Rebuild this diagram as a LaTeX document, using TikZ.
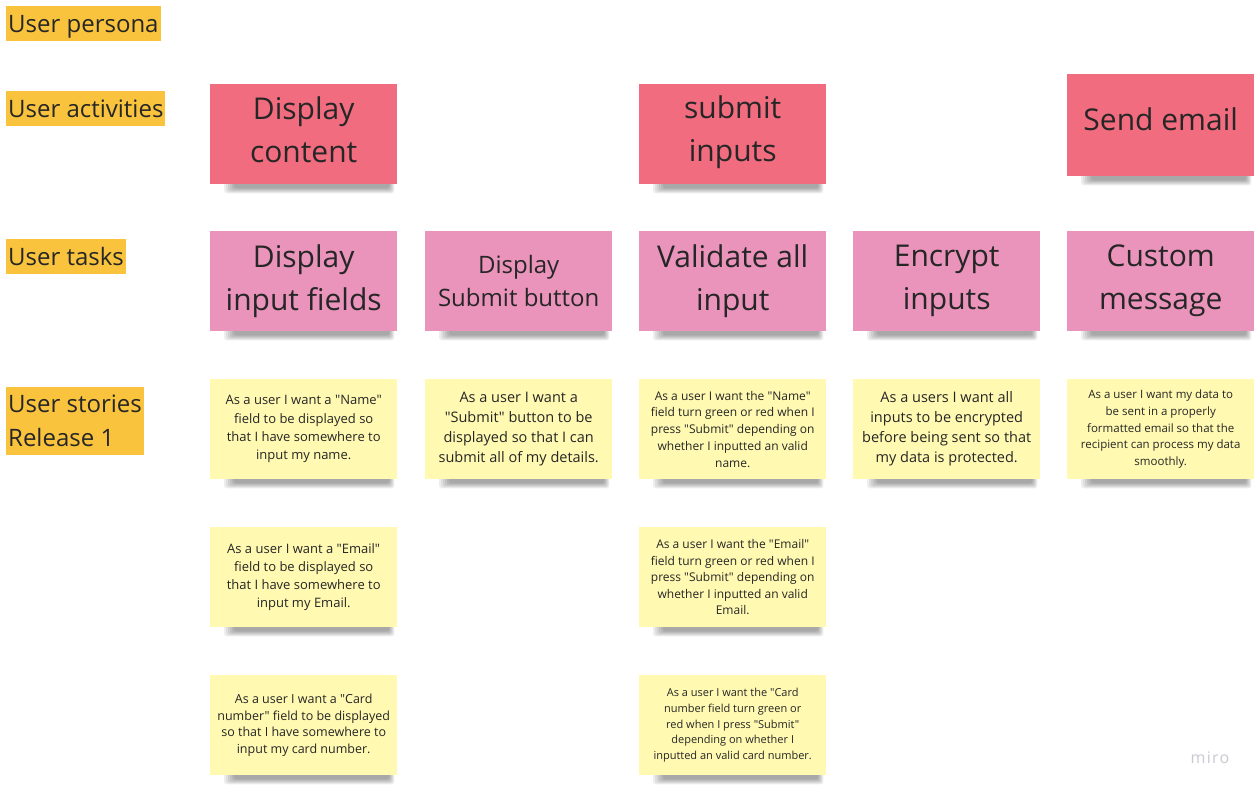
\documentclass[tikz,border=0pt]{standalone}
\usepackage{fontspec}
\setmainfont{Open Sans}[Ligatures=TeXOff]
\usetikzlibrary{backgrounds}
\definecolor{actred}{HTML}{F16C7F}
\definecolor{taskpink}{HTML}{EA94BB}
\definecolor{storyyellow}{HTML}{FFF9B1}
\definecolor{lblorange}{HTML}{F9C33D}
\definecolor{notetext}{HTML}{262626}
\definecolor{mirogray}{HTML}{C9C9D2}
\begin{document}
\begin{tikzpicture}[x=1pt,y=-1pt,
		note/.style={anchor=north west,minimum width=187pt,minimum height=100pt,inner sep=0pt,align=center,text=notetext},
		act/.style={note,fill=actred,font=\fontsize{30}{43}\selectfont},
		task/.style={note,fill=taskpink,font=\fontsize{30}{43}\selectfont},
		story/.style={note,fill=storyyellow},
		lbl/.style={anchor=north west,fill=lblorange,inner xsep=2pt,inner ysep=0pt,minimum height=35pt,align=left,text=notetext,font=\fontsize{24}{34}\selectfont}]
	\useasboundingbox (0,0) rectangle (1260,793);
	% row labels
	\node[lbl,text height=24pt] (persona) at (6,6) {User persona};
	\node[lbl] (activities) at (6,91) {User activities};
	\node[lbl] (tasks) at (6,239) {User tasks};
	\node[lbl,minimum height=68pt] (stories) at (6,387) {User stories\\Release 1};
	% activities
	\node[act,text depth=10pt] (dcontent) at (210,84) {Display\\content};
	\node[act,text depth=11pt] (subinputs) at (639,84) {submit\\inputs};
	\node[act,minimum height=102pt,text depth=12pt] (sendemail) at (1067,74) {Send email};
	% tasks
	\node[task] (dfields) at (210,231) {Display\\input fields};
	\node[task,font=\fontsize{24}{33}\selectfont] (dbutton) at (425,231) {Display\\Submit button};
	\node[task] (validate) at (639,231) {Validate all\\input};
	\node[task] (encrypt) at (853,231) {Encrypt\\inputs};
	\node[task] (custmsg) at (1067,231) {Custom\\message};
	% stories
	\node[story,font=\fontsize{13}{18.3}\selectfont] (sname) at (210,379) {As a user I want a "Name"\\field to be displayed so\\that I have somewhere to\\input my name.};
	\node[story,font=\fontsize{13}{18}\selectfont] (semail) at (210,527) {As a user I want a "Email"\\field to be displayed so\\that I have somewhere to\\input my Email.};
	\node[story,font=\fontsize{12.5}{16.5}\selectfont] (scard) at (210,675) {As a user I want a "Card\\number" field to be displayed\\so that I have somewhere to\\input my card number.};
	\node[story,font=\fontsize{14.5}{20}\selectfont] (sbutton) at (425,379) {As a user I want a\\"Submit" button to be\\displayed so that I can\\submit all of my details.};
	\node[story,font=\fontsize{12}{16.7}\selectfont] (vname) at (639,379) {As a user I want the "Name"\\field turn green or red when I\\press "Submit" depending on\\whether I inputted an valid\\name.};
	\node[story,font=\fontsize{12}{16.5}\selectfont] (vemail) at (639,527) {As a user I want the "Email"\\field turn green or red when I\\press "Submit" depending on\\whether I inputted an valid\\Email.};
	\node[story,font=\fontsize{11}{15.75}\selectfont] (vcard) at (639,675) {As a user I want the "Card\\number field turn green or\\red when I press "Submit"\\depending on whether I\\inputted an valid card number.};
	\node[story,font=\fontsize{14.5}{20}\selectfont] (sencrypt) at (853,379) {As a users I want all\\inputs to be encrypted\\before being sent so that\\my data is protected.};
	\node[story,font=\fontsize{11.5}{16.7}\selectfont] (sformat) at (1067,379) {As a user I want my data to\\be sent in a properly\\formatted email so that the\\recipient can process my data\\smoothly.};
	\node[text=mirogray,font=\fontsize{16}{16}\selectfont\addfontfeature{LetterSpace=8}] (miro) at (1210,758) {miro};
	% paper and shadows
	\begin{scope}[on background layer]
		\fill[white] (0,0) rectangle (1260,793);
		\foreach \n in {dcontent,subinputs,sendemail,dfields,dbutton,validate,encrypt,custmsg,sname,semail,scard,sbutton,vname,vemail,vcard,sencrypt,sformat}
			\foreach \k in {0,...,5}
				\fill[black,opacity=.065,rounded corners=3pt] ([xshift=14pt+2*\k pt,yshift=4pt]\n.south west) rectangle ([xshift=-3pt-\k pt,yshift=-9pt+\k pt]\n.south east);
	\end{scope}
\end{tikzpicture}
\end{document}
